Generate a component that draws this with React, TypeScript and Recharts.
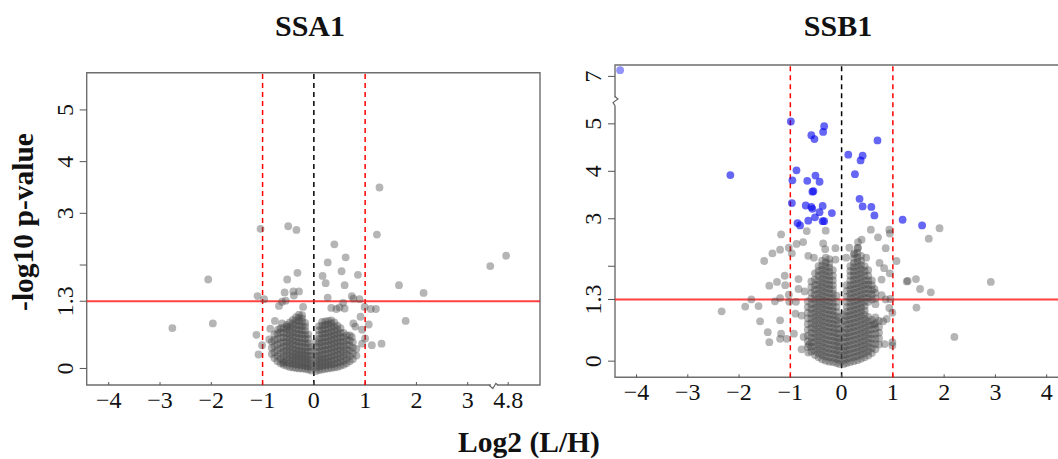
import React from 'react'
import { ScatterChart, Scatter, XAxis, YAxis, ReferenceLine, ReferenceArea, ReferenceDot } from 'recharts'

const FONT = '"Liberation Serif", "Times New Roman", serif'

// ---- SSA1 ----
const ssa1XTicks = [-4, -3, -2, -1, 0, 1, 2, 3, 4.8]
const ssa1XLabels = ['−4', '−3', '−2', '−1', '0', '1', '2', '3', '4.8']
const ssa1YTicks = [0, 1.3, 2, 3, 4, 5]
const ssa1YLabels = ['0', '1.3', '', '3', '4', '5']

// dense core, one column per log2 bin: [x, y values]
const ssa1LeftLobe: [number, number[]][] = [
  [-0.82, [0.28, 0.4, 0.52]],
  [-0.77, [0.2, 0.31, 0.43, 0.55, 0.66]],
  [-0.71, [0.14, 0.24, 0.35, 0.46, 0.57, 0.68]],
  [-0.65, [0.1, 0.19, 0.29, 0.39, 0.49, 0.59, 0.7, 0.78]],
  [-0.59, [0.07, 0.15, 0.24, 0.33, 0.42, 0.51, 0.6, 0.69, 0.78]],
  [-0.53, [0.05, 0.12, 0.2, 0.28, 0.36, 0.44, 0.52, 0.6, 0.68, 0.76, 0.84]],
  [-0.47, [0.03, 0.1, 0.17, 0.25, 0.33, 0.41, 0.49, 0.57, 0.65, 0.73, 0.81, 0.89]],
  [-0.41, [0.02, 0.09, 0.16, 0.23, 0.3, 0.38, 0.46, 0.54, 0.62, 0.7, 0.78, 0.86, 0.94]],
  [-0.35, [0.01, 0.08, 0.15, 0.22, 0.29, 0.36, 0.44, 0.52, 0.6, 0.68, 0.76, 0.84, 0.92, 0.99]],
  [-0.29, [0.0, 0.07, 0.14, 0.21, 0.28, 0.35, 0.43, 0.51, 0.59, 0.67, 0.75, 0.83, 0.91, 0.98, 1.04]],
  [-0.23, [0.0, 0.06, 0.13, 0.2, 0.27, 0.34, 0.42, 0.5, 0.58, 0.66, 0.74, 0.82, 0.9, 0.97, 1.03]],
  [-0.17, [-0.01, 0.05, 0.12, 0.19, 0.26, 0.33, 0.41, 0.49, 0.57, 0.65, 0.73, 0.81, 0.88]],
  [-0.11, [-0.02, 0.04, 0.11, 0.18, 0.25, 0.33, 0.41, 0.49, 0.57, 0.66]],
  [-0.05, [-0.04, 0.03, 0.1, 0.17, 0.25, 0.33, 0.42]],
]
const ssa1RightLobe: [number, number[]][] = [
  [0.04, [-0.05, 0.02, 0.09, 0.16, 0.24, 0.32, 0.42, 0.52]],
  [0.1, [-0.03, 0.04, 0.11, 0.18, 0.25, 0.33, 0.41, 0.49, 0.57, 0.65, 0.74, 0.82]],
  [0.16, [-0.02, 0.05, 0.12, 0.19, 0.27, 0.35, 0.43, 0.51, 0.59, 0.67, 0.75, 0.83, 0.9]],
  [0.22, [-0.01, 0.06, 0.13, 0.2, 0.28, 0.36, 0.44, 0.52, 0.6, 0.68, 0.76, 0.84, 0.91]],
  [0.28, [0.0, 0.07, 0.14, 0.21, 0.29, 0.37, 0.45, 0.53, 0.61, 0.69, 0.77, 0.85, 0.92]],
  [0.34, [0.01, 0.08, 0.15, 0.23, 0.31, 0.39, 0.47, 0.55, 0.63, 0.71, 0.79, 0.87, 0.93]],
  [0.4, [0.02, 0.09, 0.17, 0.25, 0.33, 0.41, 0.49, 0.57, 0.65, 0.73, 0.81, 0.89]],
  [0.46, [0.03, 0.11, 0.19, 0.27, 0.35, 0.43, 0.51, 0.59, 0.67, 0.75, 0.83]],
  [0.52, [0.05, 0.13, 0.21, 0.29, 0.37, 0.45, 0.53, 0.61, 0.69, 0.78]],
  [0.58, [0.07, 0.15, 0.24, 0.33, 0.42, 0.51, 0.6, 0.69]],
  [0.64, [0.1, 0.19, 0.28, 0.37, 0.46, 0.55, 0.64]],
  [0.7, [0.14, 0.24, 0.34, 0.44, 0.54, 0.64]],
  [0.76, [0.18, 0.29, 0.4, 0.51]],
  [0.83, [0.25, 0.38]],
]
const ssa1Scattered: [number, number][] = [
  [1.28, 3.5], [-1.04, 2.7], [-0.5, 2.75], [-0.34, 2.68], [1.23, 2.59], [0.4, 2.4], [0.62, 2.15],
  [0.27, 2.05], [0.54, 1.88], [-0.32, 1.85], [0.17, 1.79], [0.86, 1.81], [-0.52, 1.72], [0.23, 1.65],
  [0.6, 1.61], [-2.06, 1.72], [1.66, 1.61], [2.14, 1.46], [1.79, 0.92], [4.45, 1.98], [4.76, 2.18],
  [-2.76, 0.78], [-1.97, 0.87], [-1.12, 0.65], [-1.08, 0.27], [1.32, 0.48], [1.13, 0.45], [1.07, 0.85],
  [0.99, 1.19], [1.11, 1.15], [1.21, 1.15], [-1.1, 1.4], [-0.97, 1.34], [-0.57, 1.47], [-0.4, 1.49],
  [-0.29, 1.49], [-0.39, 1.41], [0.27, 1.37], [0.74, 1.4], [0.77, 1.35], [0.89, 1.34], [-0.68, 1.21],
  [-0.62, 1.29], [-0.55, 1.31], [-0.21, 1.19], [0.34, 1.17], [0.44, 1.15], [0.5, 1.18], [0.6, 1.16],
  [0.57, 1.27], [-0.76, 0.92], [-0.62, 0.87], [-0.85, 0.77], [-0.7, 0.75], [-0.52, 0.81], [-0.87, 0.56],
  [-1.01, 0.45], [0.81, 0.81], [0.91, 1.0], [0.94, 0.75], [0.74, 0.61], [0.77, 0.87], [1.0, 0.58],
  [0.94, 0.48], [-0.6, 0.11],
]

// ---- SSB1 ----
const ssb1XTicks = [-4, -3, -2, -1, 0, 1, 2, 3, 4]
const ssb1XLabels = ['−4', '−3', '−2', '−1', '0', '1', '2', '3', '4']
const ssb1YTicks = [0, 1.3, 2, 3, 4, 5, 7]
const ssb1YLabels = ['0', '1.3', '', '3', '4', '5', '7']

const ssb1LeftLobe: [number, number[]][] = [
  [-0.66, [0.3, 0.42, 0.54, 0.66, 0.78, 0.9, 1.02, 1.14, 1.26]],
  [-0.59, [0.2, 0.3, 0.4, 0.5, 0.6, 0.7, 0.8, 0.9, 1.0, 1.1, 1.2, 1.32, 1.44, 1.56]],
  [-0.52, [0.13, 0.22, 0.31, 0.4, 0.49, 0.58, 0.67, 0.76, 0.85, 0.94, 1.03, 1.12, 1.21, 1.3, 1.4, 1.5, 1.6, 1.72, 1.85]],
  [-0.45, [0.08, 0.17, 0.26, 0.35, 0.44, 0.53, 0.62, 0.71, 0.8, 0.89, 0.98, 1.07, 1.16, 1.25, 1.34, 1.43, 1.52, 1.61, 1.7, 1.8, 1.9, 2.0]],
  [-0.38, [0.04, 0.13, 0.22, 0.31, 0.4, 0.49, 0.58, 0.67, 0.76, 0.85, 0.94, 1.03, 1.12, 1.21, 1.3, 1.39, 1.48, 1.57, 1.66, 1.75, 1.84, 1.93, 2.02, 2.12]],
  [-0.31, [0.01, 0.1, 0.19, 0.28, 0.37, 0.46, 0.55, 0.64, 0.73, 0.82, 0.91, 1.0, 1.09, 1.18, 1.27, 1.36, 1.45, 1.54, 1.63, 1.72, 1.81, 1.9, 1.99, 2.08, 2.18]],
  [-0.24, [-0.01, 0.08, 0.17, 0.26, 0.35, 0.44, 0.53, 0.62, 0.71, 0.8, 0.89, 0.98, 1.07, 1.16, 1.25, 1.34, 1.43, 1.52, 1.61, 1.7, 1.79, 1.88, 1.97, 2.06, 2.15]],
  [-0.17, [-0.02, 0.07, 0.16, 0.25, 0.34, 0.43, 0.52, 0.61, 0.7, 0.79, 0.88, 0.97, 1.06, 1.15, 1.24, 1.33, 1.42, 1.51, 1.6, 1.7, 1.8, 1.92]],
  [-0.1, [-0.04, 0.05, 0.14, 0.23, 0.32, 0.41, 0.5, 0.59, 0.68, 0.77, 0.86, 0.95, 1.04, 1.14, 1.25, 1.38]],
  [-0.04, [-0.06, 0.03, 0.12, 0.21, 0.3, 0.39, 0.48, 0.58, 0.68, 0.8, 0.92]],
]
const ssb1RightLobe: [number, number[]][] = [
  [0.04, [-0.06, 0.03, 0.12, 0.21, 0.3, 0.4, 0.5, 0.6, 0.72, 0.85, 0.98]],
  [0.1, [-0.04, 0.05, 0.14, 0.23, 0.32, 0.41, 0.5, 0.59, 0.68, 0.77, 0.86, 0.95, 1.04, 1.14, 1.25, 1.36, 1.48, 1.6]],
  [0.17, [-0.02, 0.07, 0.16, 0.25, 0.34, 0.43, 0.52, 0.61, 0.7, 0.79, 0.88, 0.97, 1.06, 1.15, 1.24, 1.33, 1.42, 1.51, 1.6, 1.7, 1.8, 1.9, 2.0]],
  [0.24, [0.0, 0.09, 0.18, 0.27, 0.36, 0.45, 0.54, 0.63, 0.72, 0.81, 0.9, 0.99, 1.08, 1.17, 1.26, 1.35, 1.44, 1.53, 1.62, 1.71, 1.8, 1.89, 1.98, 2.07, 2.16, 2.25]],
  [0.31, [0.02, 0.11, 0.2, 0.29, 0.38, 0.47, 0.56, 0.65, 0.74, 0.83, 0.92, 1.01, 1.1, 1.19, 1.28, 1.37, 1.46, 1.55, 1.64, 1.73, 1.82, 1.91, 2.0, 2.09, 2.18, 2.28, 2.38]],
  [0.38, [0.05, 0.14, 0.23, 0.32, 0.41, 0.5, 0.59, 0.68, 0.77, 0.86, 0.95, 1.04, 1.13, 1.22, 1.31, 1.4, 1.49, 1.58, 1.67, 1.76, 1.85, 1.94, 2.03, 2.12, 2.22]],
  [0.45, [0.08, 0.17, 0.26, 0.35, 0.44, 0.53, 0.62, 0.71, 0.8, 0.89, 0.98, 1.07, 1.16, 1.25, 1.34, 1.43, 1.52, 1.61, 1.7, 1.8, 1.9, 2.0]],
  [0.52, [0.12, 0.21, 0.3, 0.39, 0.48, 0.57, 0.66, 0.75, 0.84, 0.93, 1.25, 1.34, 1.43, 1.52, 1.61, 1.7, 1.8, 1.92]],
  [0.59, [0.17, 0.27, 0.37, 0.47, 0.57, 0.67, 0.77, 0.87, 1.3, 1.4, 1.5, 1.6, 1.7]],
  [0.66, [0.25, 0.36, 0.47, 0.58, 0.69, 0.8, 0.92, 1.2, 1.32, 1.44]],
  [0.73, [0.35, 0.48, 0.6, 0.72, 0.85]],
]
const ssb1Scattered: [number, number][] = [
  [1.91, 2.8], [1.7, 2.58], [0.93, 2.77], [0.94, 2.69], [0.71, 2.61], [0.57, 2.77], [0.86, 2.38],
  [1.07, 2.11], [0.74, 2.07], [0.83, 1.96], [0.94, 1.85], [0.78, 1.72], [0.64, 1.52], [0.78, 1.39],
  [0.86, 1.3], [0.95, 1.31], [0.93, 1.12], [0.99, 1.02], [0.88, 0.89], [0.81, 0.84], [0.64, 0.77],
  [0.84, 0.36], [0.99, 0.4], [0.99, 0.33], [1.27, 1.68], [1.29, 1.69], [1.45, 1.73], [1.53, 1.52],
  [1.74, 1.45], [1.46, 1.13], [2.91, 1.67], [2.2, 0.51], [0.39, 2.56], [0.32, 2.51], [0.32, 2.39],
  [0.15, 2.39], [0.09, 2.18], [0.48, 2.18], [0.25, 2.27], [-0.12, 2.38], [-0.12, 2.14], [-0.31, 2.75],
  [-0.68, 2.74], [-0.36, 2.48], [-0.32, 2.36], [-0.75, 2.51], [-0.88, 2.47], [-0.97, 2.27],
  [-1.03, 2.39], [-1.18, 2.67], [-1.2, 2.35], [-1.35, 2.27], [-1.51, 2.11], [-0.65, 2.22],
  [-0.54, 2.18], [-1.11, 1.8], [-1.26, 1.67], [-1.41, 1.59], [-1.1, 1.6], [-0.84, 1.73], [-0.59, 1.68],
  [-1.03, 1.4], [-1.2, 1.33], [-1.3, 1.26], [-1.76, 1.3], [-1.88, 1.15], [-1.62, 1.16], [-2.34, 1.05],
  [-1.02, 1.25], [-0.89, 1.25], [-1.59, 0.84], [-1.2, 0.86], [-0.9, 1.0], [-0.78, 0.96], [-1.44, 0.61],
  [-1.18, 0.58], [-1.41, 0.4], [-1.2, 0.47], [-1.07, 0.47], [-0.93, 0.58], [-0.78, 0.25], [-0.65, 0.18],
  [-0.74, 0.51], [-0.64, 0.35], [-0.84, 1.52], [-0.72, 1.47],
]
const ssb1Significant: [number, number][] = [
  [-0.99, 5.05], [-0.34, 4.95], [-0.36, 4.83], [-0.59, 4.76], [-0.53, 4.68], [0.7, 4.65], [0.13, 4.35],
  [0.41, 4.33], [0.37, 4.23], [-2.17, 3.92], [-0.88, 4.02], [0.26, 3.94], [-0.51, 3.91], [-0.96, 3.81],
  [-0.67, 3.8], [-0.43, 3.78], [-0.55, 3.58], [-0.57, 3.57], [0.35, 3.42], [-0.97, 3.33], [-0.7, 3.28],
  [-0.59, 3.25], [-0.57, 3.21], [-0.37, 3.27], [0.41, 3.26], [0.58, 3.25], [-0.43, 3.14], [-0.19, 3.12],
  [0.64, 3.07], [-0.52, 3.03], [-0.65, 2.96], [-0.37, 2.95], [-0.34, 2.95], [-0.86, 2.91], [-0.81, 2.86],
  [1.19, 2.98], [1.57, 2.86],
]
const ssb1Top: [number, number][] = [[-4.32, 7.13]]

// axis breaks: SSA1 x jumps from ~3.5 to 4.8, SSB1 y jumps from ~5.5 to 7
const ssa1X = (v: number) => (v > 4 ? v - 1.01 : v)
const ssb1Y = (v: number) => (v > 5.5 ? v - 1 : v)

const fromLobes = (lobes: [number, number[]][]) => lobes.flatMap(([x, ys]) => ys.map((y) => [x, y] as [number, number]))

const ssa1Gray = [...fromLobes(ssa1LeftLobe), ...fromLobes(ssa1RightLobe), ...ssa1Scattered].map(([x, y]) => ({ x: ssa1X(x), y }))
const ssb1Gray = [...fromLobes(ssb1LeftLobe), ...fromLobes(ssb1RightLobe), ...ssb1Scattered].map(([x, y]) => ({ x, y: ssb1Y(y) }))
const ssb1Blue = ssb1Significant.map(([x, y]) => ({ x, y: ssb1Y(y) }))
const ssb1BlueTop = ssb1Top.map(([x, y]) => ({ x, y: ssb1Y(y) }))

const grayDot = (p: any) => <circle cx={p.cx} cy={p.cy} r={3.9} fill="#474747" fillOpacity={0.4} />
const blueDot = (p: any) => <circle cx={p.cx} cy={p.cy} r={3.9} fill="#0000ee" fillOpacity={0.6} />
const blueDotLight = (p: any) => <circle cx={p.cx} cy={p.cy} r={3.9} fill="#0000ee" fillOpacity={0.42} />

const makeXTick = (labels: string[]) => (p: any) => {
  const red = Math.abs(Math.abs(p.payload.value) - 1) < 1e-6
  return (
    <g>
      <line x1={p.x} x2={p.x} y1={p.y} y2={p.y - 3} stroke={red ? '#e00000' : '#555'} />
      <text x={p.x} y={p.y + 23} textAnchor="middle" fontFamily={FONT} fontSize={24} fill="#111">
        {labels[p.index]}
      </text>
    </g>
  )
}

const makeYTick = (labels: string[]) => (p: any) => {
  const tx = p.x - 13.5
  return (
    <g>
      <line x1={p.x - 7} x2={p.x} y1={p.y} y2={p.y} stroke="#555" />
      <text x={tx} y={p.y} transform={`rotate(-90 ${tx} ${p.y})`} textAnchor="middle" fontFamily={FONT} fontSize={24} fill="#111">
        {labels[p.index]}
      </text>
    </g>
  )
}

const xBreak = (p: any) => (
  <g>
    <rect x={p.cx - 3} y={p.cy - 2} width={6} height={4} fill="#fff" />
    <polyline points={`${p.cx - 5},${p.cy} ${p.cx - 1},${p.cy + 3.5} ${p.cx + 2},${p.cy - 1.5} ${p.cx + 4},${p.cy}`} fill="none" stroke="#666" strokeWidth={1.2} />
  </g>
)

const yBreak = (p: any) => (
  <g>
    <rect x={p.cx - 2} y={p.cy - 4} width={4} height={8} fill="#fff" />
    <polyline points={`${p.cx},${p.cy - 5} ${p.cx + 3},${p.cy - 2.5} ${p.cx - 2},${p.cy + 1} ${p.cx},${p.cy + 4}`} fill="none" stroke="#666" strokeWidth={1.2} />
  </g>
)

const ssa1XDomain = [-4.43, 4.41]
const ssa1YDomain = [-0.32, 5.72]
const ssb1XDomain = [-4.42, 4.41]
const ssb1YDomain = [-0.34, 6.24]

export default function App() {
  return (
    <div style={{ position: 'fixed', left: 0, top: 0, width: 1058, height: 459, overflow: 'hidden', background: '#fff' }}>
      <div style={{ position: 'absolute', left: 0, top: 0 }}>
        <ScatterChart width={560} height={459} margin={{ top: 72.7, right: 20, bottom: 44, left: 56.7 }}>
          <XAxis type="number" dataKey="x" domain={ssa1XDomain} allowDataOverflow ticks={ssa1XTicks.map(ssa1X)}
            height={30} axisLine={false} tickLine={false} tickSize={0} tickMargin={0} interval={0} tick={makeXTick(ssa1XLabels)} />
          <YAxis type="number" dataKey="y" domain={ssa1YDomain} allowDataOverflow ticks={ssa1YTicks}
            width={30} axisLine={false} tickLine={false} tickSize={0} tickMargin={0} interval={0} tick={makeYTick(ssa1YLabels)} />
          <Scatter data={ssa1Gray} shape={grayDot} isAnimationActive={false} />
          <ReferenceLine x={-1} stroke="#ff0000" strokeWidth={1.5} strokeDasharray="5 4" />
          <ReferenceLine x={1} stroke="#ff0000" strokeWidth={1.5} strokeDasharray="5 4" />
          <ReferenceLine x={0} stroke="#000" strokeWidth={1.5} strokeDasharray="5 4" />
          <ReferenceLine y={1.3} stroke="#ff2020" strokeWidth={2} strokeOpacity={0.85} />
          <ReferenceArea x1={ssa1XDomain[0]} x2={ssa1XDomain[1]} y1={ssa1YDomain[0]} y2={ssa1YDomain[1]}
            fill="none" stroke="#6e6e6e" strokeWidth={1.4} ifOverflow="visible" />
          <ReferenceDot x={3.51} y={ssa1YDomain[0]} ifOverflow="visible" shape={xBreak} />
        </ScatterChart>
      </div>
      <div style={{ position: 'absolute', left: 560, top: 0 }}>
        <ScatterChart width={530} height={459} margin={{ top: 65, right: 22.3, bottom: 51.7, left: 25 }}>
          <XAxis type="number" dataKey="x" domain={ssb1XDomain} allowDataOverflow ticks={ssb1XTicks}
            height={30} axisLine={false} tickLine={false} tickSize={0} tickMargin={0} interval={0} tick={makeXTick(ssb1XLabels)} />
          <YAxis type="number" dataKey="y" domain={ssb1YDomain} allowDataOverflow ticks={ssb1YTicks.map(ssb1Y)}
            width={30} axisLine={false} tickLine={false} tickSize={0} tickMargin={0} interval={0} tick={makeYTick(ssb1YLabels)} />
          <Scatter data={ssb1Gray} shape={grayDot} isAnimationActive={false} />
          <Scatter data={ssb1Blue} shape={blueDot} isAnimationActive={false} />
          <Scatter data={ssb1BlueTop} shape={blueDotLight} isAnimationActive={false} />
          <ReferenceLine x={-1} stroke="#ff0000" strokeWidth={1.5} strokeDasharray="5 4" />
          <ReferenceLine x={1} stroke="#ff0000" strokeWidth={1.5} strokeDasharray="5 4" />
          <ReferenceLine x={0} stroke="#000" strokeWidth={1.5} strokeDasharray="5 4" />
          <ReferenceLine y={1.3} stroke="#ff2020" strokeWidth={2} strokeOpacity={0.85} />
          <ReferenceArea x1={ssb1XDomain[0]} x2={ssb1XDomain[1]} y1={ssb1YDomain[0]} y2={ssb1YDomain[1]}
            fill="none" stroke="#6e6e6e" strokeWidth={1.4} ifOverflow="visible" />
          <ReferenceDot x={ssb1XDomain[0]} y={5.47} ifOverflow="visible" shape={yBreak} />
        </ScatterChart>
      </div>
      <svg width={1058} height={459} style={{ position: 'absolute', left: 0, top: 0, pointerEvents: 'none' }}>
        <text x={310} y={36} textAnchor="middle" fontFamily={FONT} fontWeight="bold" fontSize={30} fill="#111">SSA1</text>
        <text x={838} y={36} textAnchor="middle" fontFamily={FONT} fontWeight="bold" fontSize={30} fill="#111">SSB1</text>
        <text x={33} y={222} transform="rotate(-90 33 222)" textAnchor="middle" fontFamily={FONT} fontWeight="bold" fontSize={29.5} fill="#111">-log10 p-value</text>
        <text x={529} y={452} textAnchor="middle" fontFamily={FONT} fontWeight="bold" fontSize={29.5} fill="#111">Log2 (L/H)</text>
      </svg>
    </div>
  )
}
